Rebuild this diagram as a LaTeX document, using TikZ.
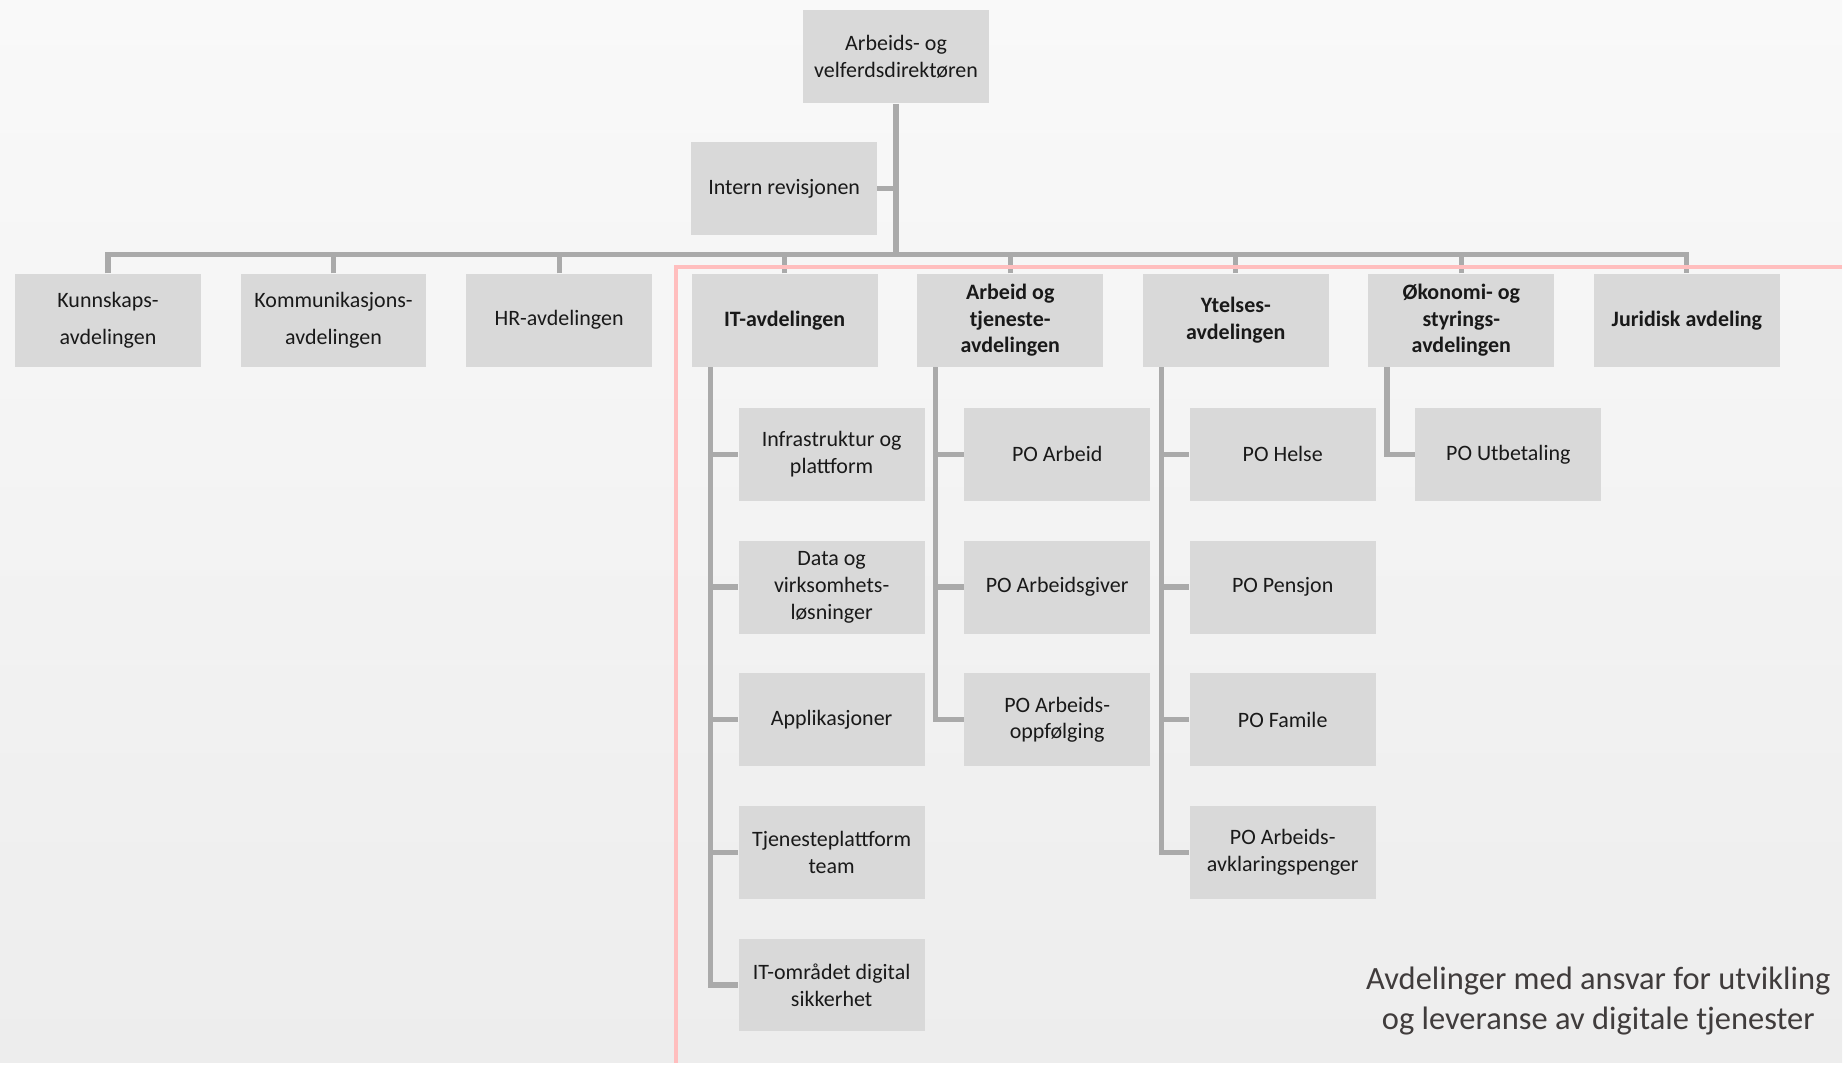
\documentclass[tikz,border=0pt]{standalone}
\usepackage{fontspec}
\setmainfont{Carlito}
\usetikzlibrary{positioning}
\definecolor{boxgray}{RGB}{217,217,217}
\definecolor{linegray}{RGB}{170,170,170}
\definecolor{redline}{RGB}{255,190,190}
\definecolor{notegray}{RGB}{64,60,60}

\begin{document}
\begin{tikzpicture}[x=0.5pt,y=-0.5pt,
box/.style={fill=boxgray,minimum width=93pt,minimum height=46.5pt,inner sep=2pt,align=center,text=black!90,font=\fontsize{11}{13.4}\selectfont},
head/.style={box,font=\fontsize{11}{13.2}\selectfont\bfseries},
link/.style={draw=linegray,line width=2.6pt},
node distance=19.5pt
]
\fill[top color={rgb,255:red,249;green,249;blue,249},bottom color={rgb,255:red,237;green,237;blue,237}] (0,0) rectangle (1844,1064);

% top of the tree
\node[box] (dir) at (897,57) {Arbeids- og\\velferdsdirektøren};
\node[box] (rev) at (785,189) {Intern revisjonen};
\coordinate (bus) at (897,255);

% departments
\node[head] (it) at (785.5,320.5) {IT-avdelingen};
\node[box,left=of it] (hr) {HR-avdelingen};
\node[box,left=of hr] (komm) {Kommunikasjons-\\[5pt]avdelingen};
\node[box,left=of komm] (kunn) {Kunnskaps-\\[5pt]avdelingen};
\node[head,right=of it] (arb) {Arbeid og\\tjeneste-\\avdelingen};
\node[head,right=of arb] (ytel) {Ytelses-\\avdelingen};
\node[head,right=of ytel] (okon) {Økonomi- og\\styrings-\\avdelingen};
\node[head,right=of okon] (jur) {Juridisk avdeling};

% IT
\node[box,below right=20.3pt and 23.5pt of it.south west] (itA) {Infrastruktur og\\plattform};
\node[box,below=of itA] (itB) {Data og\\virksomhets-\\løsninger};
\node[box,below=of itB] (itC) {Applikasjoner};
\node[box,below=of itC] (itD) {Tjenesteplattform\\team};
\node[box,below=of itD] (itE) {IT-området digital\\sikkerhet};

% Arbeid og tjeneste
\node[box,below right=20.3pt and 23.5pt of arb.south west] (arbA) {PO Arbeid};
\node[box,below=of arbA] (arbB) {PO Arbeidsgiver};
\node[box,below=of arbB] (arbC) {PO Arbeids-\\oppfølging};

% Ytelser
\node[box,below right=20.3pt and 23.5pt of ytel.south west] (ytelA) {PO Helse};
\node[box,below=of ytelA] (ytelB) {PO Pensjon};
\node[box,below=of ytelB] (ytelC) {PO Famile};
\node[box,below=of ytelC] (ytelD) {PO Arbeids-\\avklaringspenger};

% Økonomi
\node[box,below right=20.3pt and 23.5pt of okon.south west] (okonA) {PO Utbetaling};

% lines
\draw[link] (dir.south) -- (bus);
\draw[link] (rev.east) -- (rev.east -| bus);
\draw[link] (kunn.north) -- (kunn.north |- bus) -- (jur.north |- bus) -- (jur.north);
\foreach \d in {komm,hr,it,arb,ytel,okon}
  \draw[link] (\d.north) -- (\d.north |- bus);
\foreach \k in {itA,itB,itC,itD,itE}
  \draw[link] ([xshift=9.5pt]it.south west) |- (\k.west);
\foreach \k in {arbA,arbB,arbC}
  \draw[link] ([xshift=9.5pt]arb.south west) |- (\k.west);
\foreach \k in {ytelA,ytelB,ytelC,ytelD}
  \draw[link] ([xshift=9.5pt]ytel.south west) |- (\k.west);
\draw[link] ([xshift=9.5pt]okon.south west) |- (okonA.west);

% digital departments frame
\draw[redline,line width=2pt] (677,1064) |- (1844,267);

\node[align=center,text=notegray,font=\fontsize{16.25}{20}\selectfont] (note) at (1600,1002) {Avdelinger med ansvar for utvikling\\og leveranse av digitale tjenester};
\end{tikzpicture}
\end{document}
